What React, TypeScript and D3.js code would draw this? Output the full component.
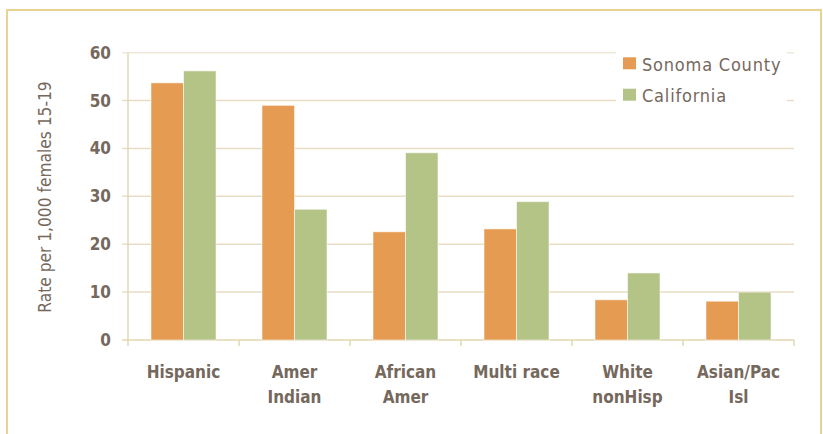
import React from "react";
import * as d3 from "d3";

const categories: string[][] = [
  ["Hispanic"],
  ["Amer", "Indian"],
  ["African", "Amer"],
  ["Multi race"],
  ["White", "nonHisp"],
  ["Asian/Pac", "Isl"],
];
const seriesNames = ["Sonoma County", "California"];
const sonoma = [53.7, 49.0, 22.6, 23.2, 8.4, 8.1];
const california = [56.2, 27.3, 39.1, 28.9, 14.0, 10.0];
const yTicks = [0, 10, 20, 30, 40, 50, 60];
const yTitle = "Rate per 1,000 females 15-19";

const colors = ["#E59B52", "#B4C487"];
const textColor = "#75685C";
const fontCond = "'DejaVu Sans Condensed', 'DejaVu Sans', sans-serif";

export default function App() {
  const W = 823, H = 434;
  const left = 128, right = 794, top = 52.7, bottom = 340;
  const keys = categories.map((c) => c.join(" "));
  const x0 = d3.scaleBand<string>().domain(keys).range([left, right]).padding(0);
  const bw = x0.bandwidth();
  const x1 = d3.scaleBand<string>().domain(seriesNames).range([23, bw - 23]).padding(0);
  const y = d3.scaleLinear().domain([0, 60]).range([bottom, top]);
  const values = [sonoma, california];

  return (
    <svg
      width={W}
      height={H}
      style={{ position: "absolute", left: 0, top: 0, background: "#fff" }}
    >
      <rect x={7} y={10} width={814} height={440} fill="#fff" stroke="#E8D294" strokeWidth={2} />
      {/* gridlines */}
      {yTicks.filter((t) => t > 0).map((t) => (
        <line
          key={"g" + t}
          x1={left - 6}
          x2={right}
          y1={y(t)}
          y2={y(t)}
          stroke={t === 60 ? "#EEE9DA" : "#E6DDC3"}
          strokeWidth={1.5}
        />
      ))}
      {/* y axis line and baseline */}
      <line x1={left} x2={left} y1={top} y2={bottom} stroke="#E3D6B0" strokeWidth={1.5} />
      <line x1={left - 6} x2={right} y1={bottom} y2={bottom} stroke="#E3D6B0" strokeWidth={1.5} />
      {keys.concat(["end"]).map((k, i) => {
        const xx = left + i * bw;
        return <line key={"t" + i} x1={xx} x2={xx} y1={bottom} y2={bottom + 6} stroke="#E3D6B0" strokeWidth={1.5} />;
      })}
      {/* legend background */}
      <rect x={616} y={48} width={171} height={58} fill="#fff" />
      {/* bars */}
      {values.map((vals, si) =>
        vals.map((v, ci) => (
          <rect
            key={`b${si}-${ci}`}
            x={(x0(keys[ci]) as number) + (x1(seriesNames[si]) as number)}
            y={y(v)}
            width={x1.bandwidth()}
            height={bottom - y(v)}
            fill={colors[si]}
            stroke="rgba(255,255,255,0.55)"
            strokeWidth={1}
          />
        ))
      )}
      {/* y tick labels */}
      {yTicks.map((t) => (
        <text
          key={"yl" + t}
          x={111}
          y={y(t)}
          textAnchor="end"
          dominantBaseline="central"
          fontFamily={fontCond}
          fontWeight="bold"
          fontSize={17}
          fill={textColor}
        >
          {t}
        </text>
      ))}
      {/* category labels */}
      {categories.map((lines, ci) => (
        <text
          key={"c" + ci}
          textAnchor="middle"
          fontFamily={fontCond}
          fontWeight="bold"
          fontSize={17}
          fill={textColor}
        >
          {lines.map((ln, li) => (
            <tspan
              key={li}
              x={(x0(keys[ci]) as number) + bw / 2}
              y={372 + li * 25}
              dominantBaseline="central"
            >
              {ln}
            </tspan>
          ))}
        </text>
      ))}
      {/* y title */}
      <text
        transform={`translate(45,197) rotate(-90)`}
        textAnchor="middle"
        dominantBaseline="central"
        fontFamily={fontCond}
        fontSize={17.2}
        fill={textColor}
      >
        {yTitle}
      </text>
      {/* legend */}
      {seriesNames.map((s, i) => (
        <g key={"l" + i}>
          <rect x={623} y={57.3 + i * 31.4} width={13} height={12} fill={colors[i]} />
          <text
            x={642}
            y={64 + i * 31.4}
            dominantBaseline="central"
            fontFamily={fontCond}
            fontSize={18}
            letterSpacing={0.8}
            fill={textColor}
          >
            {s}
          </text>
        </g>
      ))}
    </svg>
  );
}
